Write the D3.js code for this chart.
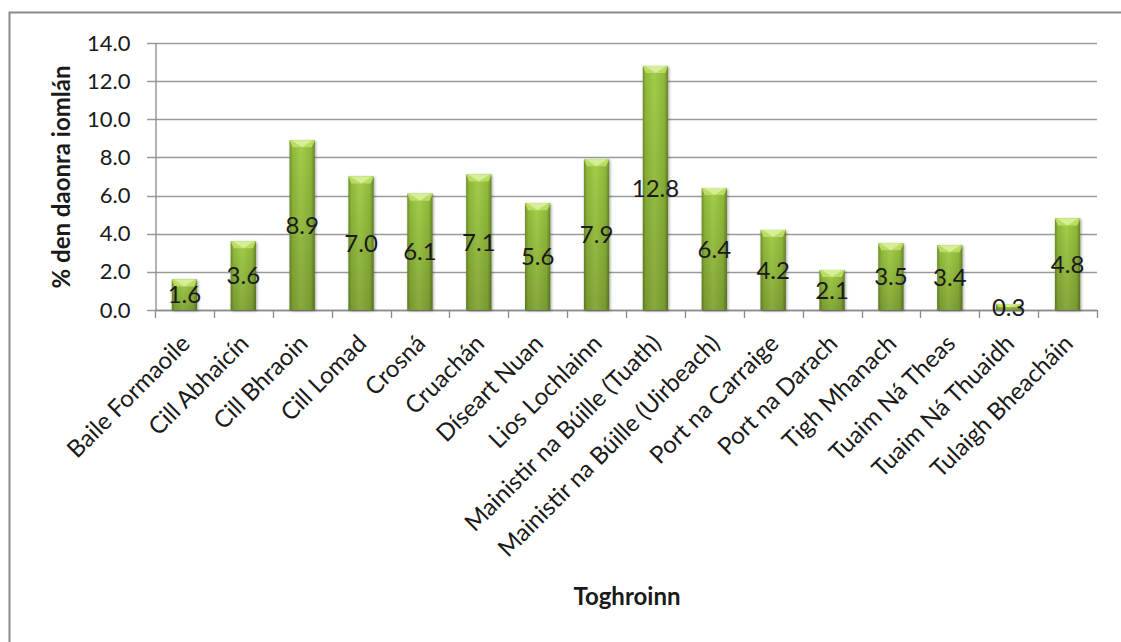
<!DOCTYPE html>
<html>
<head>
<meta charset="utf-8">
<script src="https://cdn.jsdelivr.net/npm/d3@7"></script>
<style>
  html, body { margin: 0; padding: 0; background: #fff; overflow: hidden; }
  svg { display: block; }
  text { font-family: Lato, "Open Sans", sans-serif; fill: #1a1a1a; }
</style>
</head>
<body>
<svg id="chart" width="1121" height="642"></svg>
<script>
// Toghroinn and share of total population (%)
const categories = [
  "Baile Formaoile", "Cill Abhaicín", "Cill Bhraoin", "Cill Lomad", "Crosná",
  "Cruachán", "Díseart Nuan", "Lios Lochlainn", "Mainistir na Búille (Tuath)",
  "Mainistir na Búille (Uirbeach)", "Port na Carraige", "Port na Darach",
  "Tigh Mhanach", "Tuaim Ná Theas", "Tuaim Ná Thuaidh", "Tulaigh Bheacháin"
];
const values = [1.6, 3.6, 8.9, 7.0, 6.1, 7.1, 5.6, 7.9, 12.8, 6.4, 4.2, 2.1, 3.5, 3.4, 0.3, 4.8];
const yTicks = [0, 2, 4, 6, 8, 10, 12, 14];
const yTitle = "% den daonra iomlán";
const xTitle = "Toghroinn";

const svg = d3.select("#chart");
const plot = { left: 155, right: 1097, top: 43, bottom: 310 };

// outer frame: only its top and left edges fall inside the canvas
svg.append("path")
  .attr("d", "M9.5,700V12.5H1200")
  .attr("fill", "none").attr("stroke", "#8a8a8a").attr("stroke-width", 2);

const x = d3.scaleBand().domain(categories).range([plot.left, plot.right]).paddingInner(0).paddingOuter(0);
const y = d3.scaleLinear().domain([0, 14]).range([plot.bottom, plot.top]);

// gradients for the bevelled bars
const defs = svg.append("defs");
const hg = defs.append("linearGradient").attr("id", "barH").attr("x1", "0").attr("x2", "1").attr("y1", "0").attr("y2", "0");
hg.append("stop").attr("offset", "0").attr("stop-color", "#6f8f28");
hg.append("stop").attr("offset", "0.12").attr("stop-color", "#90ba3a");
hg.append("stop").attr("offset", "0.45").attr("stop-color", "#a4cd4a");
hg.append("stop").attr("offset", "0.85").attr("stop-color", "#90ba3a");
hg.append("stop").attr("offset", "1").attr("stop-color", "#66842a");
const vg = defs.append("linearGradient").attr("id", "barV").attr("x1", "0").attr("x2", "0").attr("y1", "0").attr("y2", "1");
vg.append("stop").attr("offset", "0").attr("stop-color", "#000").attr("stop-opacity", 0);
vg.append("stop").attr("offset", "1").attr("stop-color", "#000").attr("stop-opacity", 0.18);
const sh = defs.append("filter").attr("id", "shadow").attr("x", "-30%").attr("y", "-10%").attr("width", "160%").attr("height", "130%");
sh.append("feGaussianBlur").attr("in", "SourceAlpha").attr("stdDeviation", 1.6).attr("result", "b");
sh.append("feOffset").attr("in", "b").attr("dx", 0.5).attr("dy", 1).attr("result", "o");
sh.append("feComponentTransfer").attr("in", "o").attr("result", "s")
  .append("feFuncA").attr("type", "linear").attr("slope", 0.35);
const fm = sh.append("feMerge");
fm.append("feMergeNode").attr("in", "s");
fm.append("feMergeNode").attr("in", "SourceGraphic");

// horizontal gridlines
svg.append("g").selectAll("line").data(yTicks).join("line")
  .attr("x1", plot.left - 8).attr("x2", plot.right)
  .attr("y1", d => Math.round(y(d)) + 0.5).attr("y2", d => Math.round(y(d)) + 0.5)
  .attr("stroke", "#9a9a9a").attr("stroke-width", 1.3);

// y axis
const yAxis = d3.axisLeft(y).tickValues(yTicks).tickFormat(d3.format(".1f")).tickSize(0).tickPadding(25);
const yg = svg.append("g").attr("transform", `translate(${plot.left + 0.5},0)`).call(yAxis);
yg.select(".domain").attr("stroke", "#8a8a8a").attr("stroke-width", 1.3);
yg.selectAll("text").style("font-size", "22px").attr("fill", "#1a1a1a");

// x axis with ticks at band boundaries
const xg = svg.append("g");
xg.append("line").attr("x1", plot.left).attr("x2", plot.right)
  .attr("y1", plot.bottom + 0.5).attr("y2", plot.bottom + 0.5)
  .attr("stroke", "#8a8a8a").attr("stroke-width", 1.3);
const bounds = categories.map(c => x(c)).concat([x(categories[categories.length - 1]) + x.bandwidth()]);
xg.selectAll("line.tk").data(bounds).join("line").attr("class", "tk")
  .attr("x1", d => Math.round(d) + 0.5).attr("x2", d => Math.round(d) + 0.5)
  .attr("y1", plot.bottom).attr("y2", plot.bottom + 8)
  .attr("stroke", "#8a8a8a").attr("stroke-width", 1.3);

// bars
const bw = x.bandwidth() * 0.43;
const bars = svg.append("g").selectAll("g").data(values).join("g")
  .attr("filter", "url(#shadow)");
bars.each(function (v, i) {
  const g = d3.select(this);
  const cx = x(categories[i]) + x.bandwidth() / 2;
  const x0 = cx - bw / 2, y0 = y(v), h = y(0) - y(v);
  g.append("rect").attr("x", x0).attr("y", y0).attr("width", bw).attr("height", h).attr("fill", "url(#barH)");
  g.append("rect").attr("x", x0).attr("y", y0).attr("width", bw).attr("height", h).attr("fill", "url(#barV)");
  const cap = Math.min(7, h / 2);
  // bevelled top: light chevron
  g.append("path")
    .attr("d", `M${x0},${y0}L${x0 + bw},${y0}L${x0 + bw - 3},${y0 + cap}L${x0 + 3},${y0 + cap}Z`)
    .attr("fill", "#b9dc62");
  g.append("path")
    .attr("d", `M${x0 + 2},${y0}L${x0 + bw - 2},${y0}L${cx},${y0 + cap}Z`)
    .attr("fill", "#d6ee96");
});

// value labels centred on each bar
svg.append("g").selectAll("text").data(values).join("text")
  .attr("x", (d, i) => x(categories[i]) + x.bandwidth() / 2)
  .attr("y", d => (y(d) + y(0)) / 2)
  .attr("text-anchor", "middle").attr("dy", "0.36em")
  .style("font-size", "24px")
  .text(d => d3.format(".1f")(d));

// rotated category labels
svg.append("g").selectAll("text").data(categories).join("text")
  .attr("transform", d => `translate(${x(d) + x.bandwidth() / 2 + 7},${plot.bottom + 35}) rotate(-45)`)
  .attr("text-anchor", "end")
  .style("font-size", "24px")
  .text(d => d);

// axis titles
svg.append("text")
  .attr("transform", `translate(70,177) rotate(-90)`)
  .attr("text-anchor", "middle")
  .style("font-size", "24px").style("font-weight", "bold")
  .text(yTitle);
svg.append("text")
  .attr("x", 627).attr("y", 605)
  .attr("text-anchor", "middle")
  .style("font-size", "24px").style("font-weight", "bold")
  .text(xTitle);
</script>
</body>
</html>
